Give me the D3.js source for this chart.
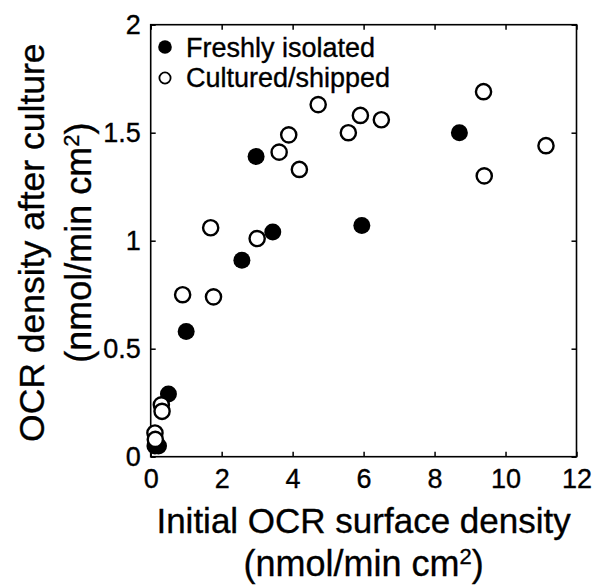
<!DOCTYPE html>
<html>
<head>
<meta charset="utf-8">
<script src="https://cdn.jsdelivr.net/npm/d3@7"></script>
<style>
    body { margin: 0; background: #fff; }
    svg text { font-family: "Liberation Sans", Arial, Helvetica, sans-serif; fill: #000; stroke: #000; stroke-width: 0.35px; }
</style>
</head>
<body>
<div id="chart"></div>
<script>
// values
const freshX = [0.12, 0.22, 0.50, 1.00, 2.57, 2.97, 3.44, 5.95, 8.70];
const freshY = [0.05, 0.05, 0.29, 0.58, 0.91, 1.39, 1.04, 1.07, 1.50];
const culturedX = [0.12, 0.13, 0.30, 0.32, 0.90, 1.69, 1.77, 3.00, 3.62, 3.89, 4.19, 4.72, 5.57, 5.91, 6.50, 9.38, 9.40, 11.14];
const culturedY = [0.11, 0.08, 0.24, 0.21, 0.75, 1.06, 0.74, 1.01, 1.41, 1.49, 1.33, 1.63, 1.50, 1.58, 1.56, 1.69, 1.30, 1.44];
const xTicks = [0, 2, 4, 6, 8, 10, 12];
const yTicks = [0, 0.5, 1, 1.5, 2];
const yTickLabels = ['0', '0.5', '1', '1.5', '2'];
const legendLabels = ['Freshly isolated', 'Cultured/shipped'];

const width = 594, height = 588;
const plotLeft = 150.7, plotRight = 576.5, plotTop = 24.7, plotBottom = 456.7;

const svg = d3.select('#chart')
    .append('svg')
    .attr('width', width)
    .attr('height', height);

const x = d3.scaleLinear().domain([0, 12]).range([plotLeft, plotRight]);
const y = d3.scaleLinear().domain([0, 2]).range([plotBottom, plotTop]);

// axes with inward ticks
svg.append('g')
    .attr('transform', 'translate(0,' + plotBottom + ')')
    .call(d3.axisBottom(x).tickValues(xTicks).tickFormat(d3.format('d'))
        .tickSizeInner(-5).tickSizeOuter(0).tickPadding(12));

svg.append('g')
    .attr('transform', 'translate(' + plotLeft + ',0)')
    .call(d3.axisLeft(y).tickValues(yTicks).tickFormat((d, i) => yTickLabels[i])
        .tickSizeInner(-5).tickSizeOuter(0).tickPadding(10));

svg.append('g')
    .attr('transform', 'translate(0,' + plotTop + ')')
    .call(d3.axisTop(x).tickValues(xTicks).tickFormat('').tickSizeInner(-5).tickSizeOuter(0));

svg.append('g')
    .attr('transform', 'translate(' + plotRight + ',0)')
    .call(d3.axisRight(y).tickValues(yTicks).tickFormat('').tickSizeInner(-5).tickSizeOuter(0));

svg.selectAll('.domain').remove();
svg.selectAll('.tick line').attr('stroke', '#000').attr('stroke-width', 1.5);
svg.selectAll('.tick text')
    .style('font-size', '27px')
    .attr('fill', '#000');

svg.append('rect')
    .attr('x', plotLeft)
    .attr('y', plotTop)
    .attr('width', plotRight - plotLeft)
    .attr('height', plotBottom - plotTop)
    .attr('fill', 'none')
    .attr('stroke', '#000')
    .attr('stroke-width', 1.6);

// points
const fresh = freshX.map((d, i) => ({x: d, y: freshY[i]}));
const cultured = culturedX.map((d, i) => ({x: d, y: culturedY[i]}));

svg.append('g')
    .selectAll('circle')
    .data(fresh)
    .enter()
    .append('circle')
    .attr('cx', d => x(d.x))
    .attr('cy', d => y(d.y))
    .attr('r', 8.5)
    .attr('fill', '#000');

svg.append('g')
    .selectAll('circle')
    .data(cultured)
    .enter()
    .append('circle')
    .attr('cx', d => x(d.x))
    .attr('cy', d => y(d.y))
    .attr('r', 7.6)
    .attr('fill', '#fff')
    .attr('stroke', '#000')
    .attr('stroke-width', 2.4);

// legend
const legend = svg.append('g');
legend.append('circle')
    .attr('cx', 165).attr('cy', 47).attr('r', 6.8)
    .attr('fill', '#000');
legend.append('circle')
    .attr('cx', 165).attr('cy', 78).attr('r', 5.6)
    .attr('fill', '#fff').attr('stroke', '#000').attr('stroke-width', 1.8);
legend.selectAll('text')
    .data(legendLabels)
    .enter()
    .append('text')
    .attr('x', 186)
    .attr('y', (d, i) => 56.5 + i * 30)
    .style('font-size', '27px')
    .text(d => d);

// axis titles
const midX = (plotLeft + plotRight) / 2;
svg.append('text')
    .attr('x', midX).attr('y', 533)
    .attr('text-anchor', 'middle')
    .style('font-size', '35px')
    .text('Initial OCR surface density');

const xUnit = svg.append('text')
    .attr('x', midX).attr('y', 576)
    .attr('text-anchor', 'middle')
    .style('font-size', '36px');
xUnit.append('tspan').text('(nmol/min cm');
xUnit.append('tspan').attr('dy', -12).style('font-size', '22px').text('2');
xUnit.append('tspan').attr('dy', 12).text(')');

const midY = (plotTop + plotBottom) / 2 + 2;
svg.append('text')
    .attr('transform', 'translate(44,' + midY + ') rotate(-90)')
    .attr('text-anchor', 'middle')
    .style('font-size', '35.5px')
    .text('OCR density after culture');

const yUnit = svg.append('text')
    .attr('transform', 'translate(91,' + midY + ') rotate(-90)')
    .attr('text-anchor', 'middle')
    .style('font-size', '36px');
yUnit.append('tspan').text('(nmol/min cm');
yUnit.append('tspan').attr('dy', -12).style('font-size', '22px').text('2');
yUnit.append('tspan').attr('dy', 12).text(')');
</script>
</body>
</html>
